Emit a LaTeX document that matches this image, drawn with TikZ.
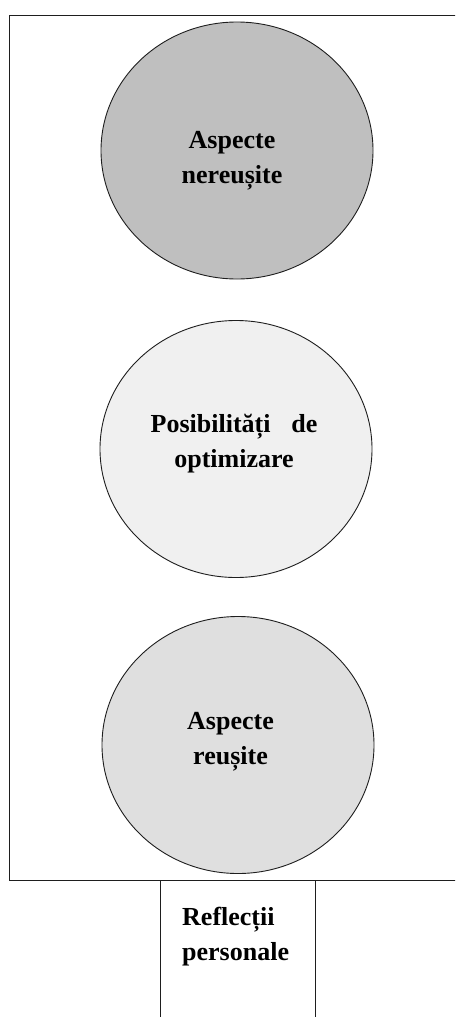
\documentclass[tikz,border=0pt]{standalone}
\usepackage{fontspec}
\setmainfont{Liberation Serif}
\usetikzlibrary{shapes.geometric}
\definecolor{topfill}{RGB}{191,191,191}
\definecolor{midfill}{RGB}{240,240,240}
\definecolor{botfill}{RGB}{223,223,223}
\definecolor{edge}{RGB}{30,30,30}
\tikzset{
  oval/.style={ellipse, draw=edge, line width=0.9pt, minimum width=272pt, minimum height=257pt, inner sep=0pt},
  lbl/.style={font=\fontsize{26pt}{35pt}\selectfont\bfseries, align=center, inner sep=0pt, anchor=base},
  frame/.style={draw=edge, line width=1pt}
}
\begin{document}
\begin{tikzpicture}[x=1pt,y=-1pt]
\useasboundingbox (0,0) rectangle (455,1017);
\clip (0,0) rectangle (455,1017);
\draw[frame] (9,15) rectangle (470,880);
\draw[frame] (160,880) rectangle (315,1030);
\node[oval, fill=topfill] (c1) at (237,150.5) {};
\node[oval, fill=midfill] (c2) at (236,449) {};
\node[oval, fill=botfill] (c3) at (238,745) {};
\node[lbl] (t1) at (232,183) {Aspecte\\nereușite};
\node[lbl] (t2) at (234,467) {Posibilități\hspace{0.8em}de\\optimizare};
\node[lbl] (t3) at (230.5,764) {Aspecte\\reușite};
\node[lbl, align=left, anchor=base west] (t4) at (182,960) {Reflecții\\personale};
\end{tikzpicture}
\end{document}
